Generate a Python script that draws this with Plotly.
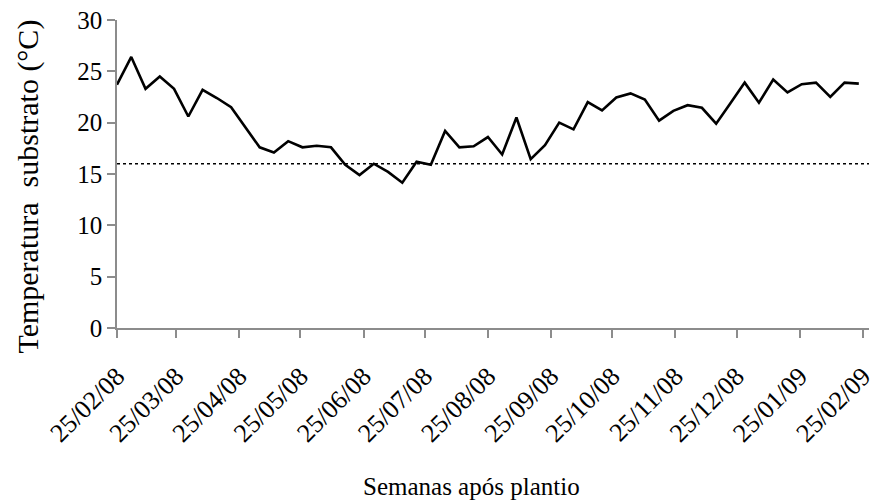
import plotly.graph_objects as go
import pandas as pd

# Weekly substrate temperature readings (°C), starting 25/02/08
start_date = "2008-02-25"
temperatura = [
    23.7, 26.4, 23.3, 24.5, 23.3, 20.6, 23.2, 22.4, 21.5, 19.6,
    17.6, 17.1, 18.2, 17.6, 17.75, 17.6, 15.9, 14.9, 16.0, 15.2,
    14.15, 16.2, 15.9, 19.2, 17.6, 17.7, 18.6, 16.9, 20.5, 16.45,
    17.8, 20.0, 19.35, 22.0, 21.2, 22.45, 22.85, 22.25, 20.2, 21.15,
    21.7, 21.45, 19.9, 21.9, 23.9, 21.95, 24.2, 22.95, 23.75, 23.9,
    22.5, 23.9, 23.8,
]
datas = pd.date_range(start_date, periods=len(temperatura), freq="7D")

tick_dates = [
    "2008-02-25", "2008-03-25", "2008-04-25", "2008-05-25", "2008-06-25",
    "2008-07-25", "2008-08-25", "2008-09-25", "2008-10-25", "2008-11-25",
    "2008-12-25", "2009-01-25", "2009-02-25",
]
tick_labels = [pd.Timestamp(d).strftime("%d/%m/%y") for d in tick_dates]
limiar = 16
y_ticks = [0, 5, 10, 15, 20, 25, 30]

FONT = "Liberation Serif, Times New Roman, serif"
AXIS_GREY = "#8c8c8c"

fig = go.Figure()
fig.add_trace(go.Scatter(
    x=datas, y=temperatura, mode="lines",
    line=dict(color="black", width=2.6),
    showlegend=False, hoverinfo="skip", cliponaxis=False,
))
fig.add_shape(
    type="line", xref="paper", x0=0, x1=1, yref="y", y0=limiar, y1=limiar,
    line=dict(color="black", width=1.6, dash="dot"),
)

fig.update_layout(
    width=878, height=503,
    margin=dict(l=117, r=9, t=20, b=175),
    paper_bgcolor="white", plot_bgcolor="white",
    font=dict(family=FONT, color="black", size=24),
    showlegend=False,
)
fig.update_xaxes(
    type="date",
    range=["2008-02-25", "2009-02-28"],
    automargin=False,
    tickvals=tick_dates, ticktext=tick_labels,
    tickangle=-45,
    ticklabeloverflow="allow",
    ticklabelstandoff=13,
    tickfont=dict(family=FONT, size=26, color="black"),
    showgrid=False, zeroline=False,
    showline=True, linecolor=AXIS_GREY, linewidth=1.5,
    ticks="outside", ticklen=8, tickcolor=AXIS_GREY, tickwidth=1.5,
)
fig.update_yaxes(
    range=[0, 30],
    automargin=False,
    tickvals=y_ticks,
    tickfont=dict(family=FONT, size=25, color="black"),
    showgrid=False, zeroline=False,
    showline=True, linecolor=AXIS_GREY, linewidth=1.5,
    ticks="outside", ticklen=8, tickcolor=AXIS_GREY, tickwidth=1.5,
)

fig.add_annotation(
    text="Semanas após plantio", xref="paper", yref="paper",
    x=0.472, y=-0.516, xanchor="center", yanchor="middle",
    showarrow=False, font=dict(family=FONT, size=25, color="black"),
)
fig.add_annotation(
    text="Temperatura  substrato (°C)", xref="paper", yref="paper",
    x=-0.118, y=0.46, xanchor="center", yanchor="middle", textangle=-90,
    showarrow=False, font=dict(family=FONT, size=30, color="black"),
)

fig.write_html("out.html")
